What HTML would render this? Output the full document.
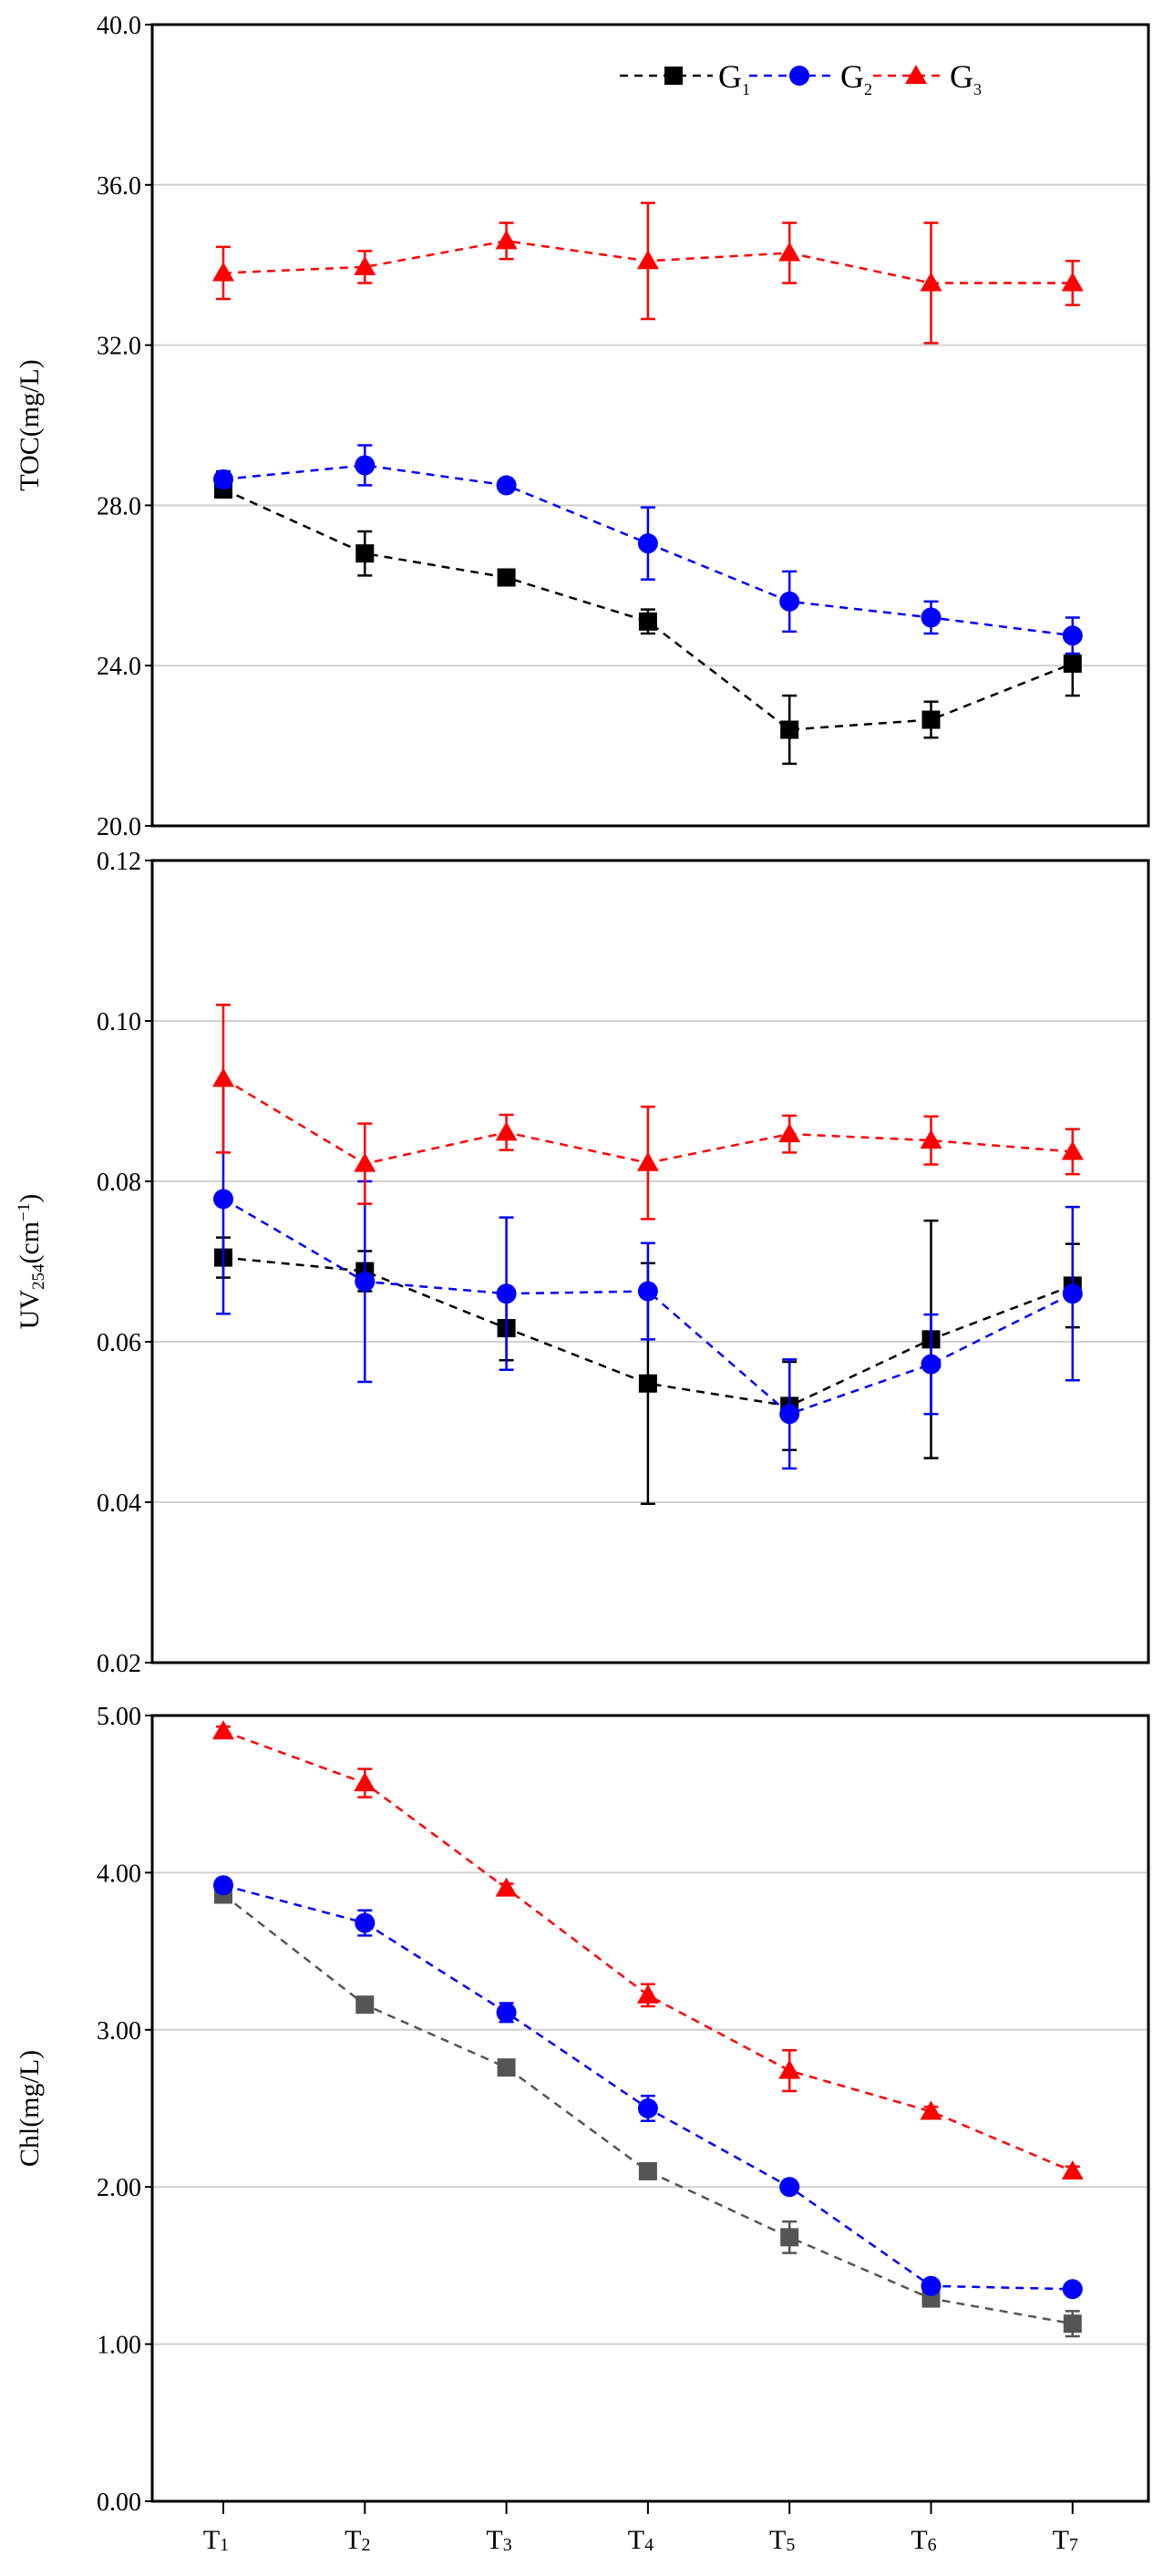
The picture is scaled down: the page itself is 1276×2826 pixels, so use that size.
<!DOCTYPE html>
<html><head><meta charset="utf-8"><style>
html,body{margin:0;padding:0;background:#fff;}
svg{display:block;font-family:"Liberation Serif",serif;}
</style></head><body>
<svg id="c" width="1276" height="2826" viewBox="0 0 1276 2826"></svg>
<script>
const categories=["1","2","3","4","5","6","7"];
const tocG1=[28.4,26.8,26.2,25.1,22.4,22.65,24.05];
const tocG1Err=[0.2,0.55,0.1,0.3,0.85,0.45,0.8];
const tocG2=[28.65,29.0,28.5,27.05,25.6,25.2,24.75];
const tocG2Err=[0.2,0.5,0.1,0.9,0.75,0.4,0.45];
const tocG3=[33.8,33.95,34.6,34.1,34.3,33.55,33.55];
const tocG3Err=[0.65,0.4,0.45,1.45,0.75,1.5,0.55];
const uvG1=[0.0705,0.0688,0.0617,0.0548,0.052,0.0603,0.067];
const uvG1Err=[0.0025,0.0025,0.004,0.015,0.0055,0.0148,0.0052];
const uvG2=[0.0778,0.0675,0.066,0.0663,0.051,0.0572,0.066];
const uvG2Err=[0.0143,0.0125,0.0095,0.006,0.0068,0.0062,0.0108];
const uvG3=[0.0928,0.0822,0.0861,0.0823,0.0859,0.0851,0.0837];
const uvG3Err=[0.0092,0.005,0.0022,0.007,0.0023,0.003,0.0028];
const chlG1=[3.86,3.16,2.76,2.1,1.68,1.29,1.13];
const chlG1Err=[0.03,0.03,0.03,0.03,0.1,0.03,0.08];
const chlG2=[3.92,3.68,3.11,2.5,2.0,1.37,1.35];
const chlG2Err=[0.03,0.08,0.06,0.08,0.03,0.03,0.03];
const chlG3=[4.9,4.57,3.9,3.22,2.74,2.48,2.1];
const chlG3Err=[0.03,0.09,0.03,0.07,0.13,0.03,0.03];
const tocTicks=["20.0","24.0","28.0","32.0","36.0","40.0"];
const uvTicks=["0.02","0.04","0.06","0.08","0.10","0.12"];
const chlTicks=["0.00","1.00","2.00","3.00","4.00","5.00"];

const NS="http://www.w3.org/2000/svg";
const svg=document.getElementById('c');
function mk(tag,attrs,parent){const e=document.createElementNS(NS,tag);for(const k in attrs)e.setAttribute(k,attrs[k]);(parent||svg).appendChild(e);return e;}
const L=167,R=1260;
const x=i=>245+i*155.3;

function panel(name,top,bottom,ticks,title,series,sub,showX){
  const g=mk('g',{});
  
  
  const lo=parseFloat(ticks[0]),hi=parseFloat(ticks[ticks.length-1]);
  const y=v=>bottom-(v-lo)/(hi-lo)*(bottom-top);
  ticks.forEach((t,i)=>{
    const yy=y(parseFloat(t));
    if(i>0&&i<ticks.length-1){const gl=mk('line',{x1:L,x2:R,y1:yy,y2:yy,stroke:'#d0d0d0','stroke-width':2},g);
      }
    mk('line',{x1:L-8,x2:L,y1:yy,y2:yy,stroke:'#000','stroke-width':2},g);
    const tx=mk('text',{x:L-12,y:yy+10,'text-anchor':'end','font-size':28},g);
    tx.textContent=t;
    
    
  });
  const fr=mk('rect',{x:L,y:top,width:R-L,height:bottom-top,fill:'none',stroke:'#000','stroke-width':3},g);
  
  const ty=(top+bottom)/2;
  const tt=mk('text',{x:0,y:0,transform:`translate(42,${ty}) rotate(-90)`,'text-anchor':'middle','font-size':30},g);
  
  tt.innerHTML=title;
  series.forEach(s=>{
    const pts=s.v.map((v,i)=>x(i)+','+y(v)).join(' ');
    const pl=mk('polyline',{points:pts,fill:'none',stroke:s.c,'stroke-width':2.5,'stroke-dasharray':'9,7'},g);
    
    s.v.forEach((v,i)=>{
      const e=s.e[i],xx=x(i);
      const eb=mk('path',{d:`M${xx},${y(v-e)}V${y(v+e)}M${xx-8},${y(v-e)}H${xx+8}M${xx-8},${y(v+e)}H${xx+8}`,stroke:s.c,'stroke-width':2.5,fill:'none'},g);
      
      const m=marker(s.m,xx,y(v),s.c,g);
      
    });
  });
  if(showX){
    categories.forEach((c,i)=>{
      mk('line',{x1:x(i),x2:x(i),y1:bottom,y2:bottom+14,stroke:'#000','stroke-width':2},g);
      const t=mk('text',{x:x(i)-8,y:bottom+52,'text-anchor':'middle','font-size':30},g);
      t.innerHTML=`T<tspan font-size="20" dy="2">${c}</tspan>`;
      
    });
  }
}
function marker(type,cx,cy,c,g){
  if(type==='s')return mk('rect',{x:cx-10,y:cy-10,width:20,height:20,fill:c},g);
  if(type==='c')return mk('circle',{cx:cx,cy:cy,r:11,fill:c},g);
  return mk('polygon',{points:`${cx},${cy-12} ${cx+12},${cy+9} ${cx-12},${cy+9}`,fill:c},g);
}
panel('toc',27,906,tocTicks,'TOC(mg/L)',[
 {n:'g1',v:tocG1,e:tocG1Err,c:'#000',m:'s'},
 {n:'g2',v:tocG2,e:tocG2Err,c:'#0000ff',m:'c'},
 {n:'g3',v:tocG3,e:tocG3Err,c:'#ff0000',m:'t'}],'',false);
panel('uv254',944,1824,uvTicks,'UV<tspan font-size="19" dy="6">254</tspan><tspan dy="-6">(cm</tspan><tspan font-size="19" dy="-10">−1</tspan><tspan dy="10">)</tspan>',[
 {n:'g1',v:uvG1,e:uvG1Err,c:'#000',m:'s'},
 {n:'g2',v:uvG2,e:uvG2Err,c:'#0000ff',m:'c'},
 {n:'g3',v:uvG3,e:uvG3Err,c:'#ff0000',m:'t'}],'',false);
panel('chl',1882,2744,chlTicks,'Chl(mg/L)',[
 {n:'g1',v:chlG1,e:chlG1Err,c:'#555',m:'s'},
 {n:'g2',v:chlG2,e:chlG2Err,c:'#0000ff',m:'c'},
 {n:'g3',v:chlG3,e:chlG3Err,c:'#ff0000',m:'t'}],'',true);

// legend
const lg=mk('g',{});


const legend=[['G','1','#000','s',680,812],['G','2','#0000ff','c',822,946],['G','3','#ff0000','t',958,1066]];
legend.forEach(([t,s,c,m,x0,x1])=>{
  const eg=mk('g',{},lg);
  
  
  mk('line',{x1:x0,x2:x1-30,y1:83,y2:83,stroke:c,'stroke-width':2.5,'stroke-dasharray':'9,7'},eg);
  marker(m,(x0+x1-30)/2+8,83,c,eg);
  const tx=mk('text',{x:x1-24,y:96,'font-size':36},eg);
  tx.innerHTML=`${t}<tspan font-size="18" dy="8">${s}</tspan>`;
});
</script>
</body></html>
